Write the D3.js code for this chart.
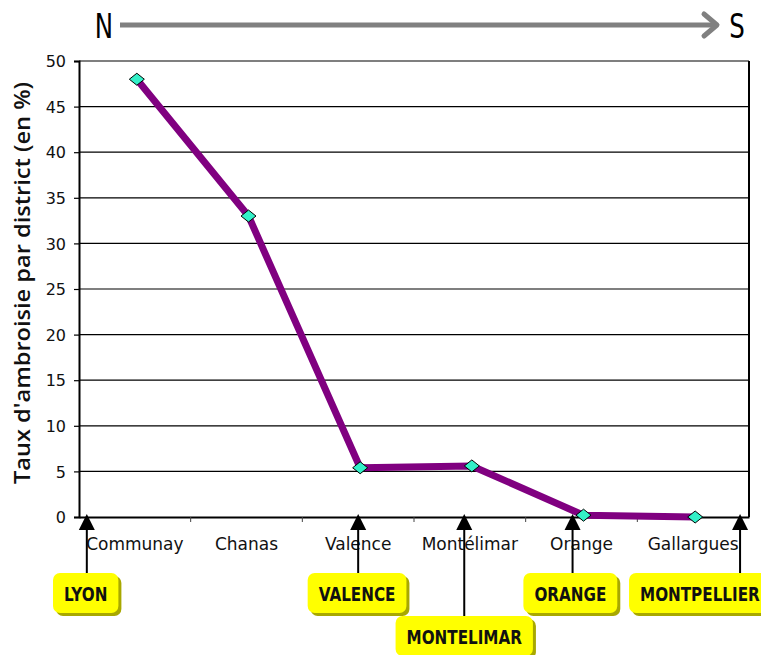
<!DOCTYPE html>
<html>
<head>
<meta charset="utf-8">
<script src="https://cdn.jsdelivr.net/npm/d3@7"></script>
<style>
  body { margin: 0; background: #fff; }
  svg { display: block; }
  .cat text { font-family: "DejaVu Sans", Verdana, sans-serif; font-size: 17px; fill: #111; }
  .yax text { font-family: "DejaVu Sans", Verdana, sans-serif; font-size: 16px; fill: #111; }
  .tag text { font-family: "DejaVu Sans", sans-serif; font-size: 19px; font-weight: bold; fill: #111; }
</style>
</head>
<body>
<svg id="chart" width="761" height="655"></svg>
<script>
const districts = ["Communay", "Chanas", "Valence", "Montélimar", "Orange", "Gallargues"];
const taux = [48, 33, 5.4, 5.6, 0.2, 0];
const yTicks = [0, 5, 10, 15, 20, 25, 30, 35, 40, 45, 50];

// villes repères : position en unités de catégorie (0 = Communay)
const villes = ["LYON", "VALENCE", "MONTELIMAR", "ORANGE", "MONTPELLIER"];
const villePos = [-0.43, 2.0, 2.95, 3.92, 5.42];
const etiquettePos = [-0.44, 1.99, 2.95, 3.9, 5.06];
const etiquetteRang = [0, 0, 1, 0, 0];

const svg = d3.select("#chart");
const m = { left: 79, right: 749, top: 61, bottom: 517 };
const serre = 0.8; // police étroite simulée

const x = d3.scaleBand().domain(districts).range([m.left, m.right]);
const xi = d3.scaleLinear().domain([0, 1])
  .range([x(districts[0]) + x.bandwidth() / 2, x(districts[1]) + x.bandwidth() / 2]);
const y = d3.scaleLinear().domain([0, 50]).range([m.bottom, m.top]);

// ---------- N -> S ----------
const nord = svg.append("g");
nord.append("line")
  .attr("x1", 120).attr("x2", 714).attr("y1", 25).attr("y2", 25)
  .attr("stroke", "#808080").attr("stroke-width", 5);
nord.append("path")
  .attr("d", "M704,14 L717,25 L704,36")
  .attr("fill", "none").attr("stroke", "#808080").attr("stroke-width", 5)
  .attr("stroke-linecap", "round").attr("stroke-linejoin", "round");
nord.selectAll("text").data([["N", 104], ["S", 737]]).join("text")
  .attr("transform", d => `translate(${d[1]},38) scale(0.72,1)`)
  .attr("text-anchor", "middle")
  .style("font-family", "'DejaVu Sans', sans-serif")
  .style("font-size", "34px")
  .attr("fill", "#000")
  .text(d => d[0]);

// ---------- grid ----------
svg.append("g")
  .selectAll("line").data(yTicks.filter(d => d > 0)).join("line")
  .attr("x1", m.left).attr("x2", m.right)
  .attr("y1", d => y(d)).attr("y2", d => y(d))
  .attr("stroke", "#000").attr("stroke-width", 1.2);

svg.append("line")
  .attr("x1", m.right).attr("x2", m.right).attr("y1", m.top).attr("y2", m.bottom)
  .attr("stroke", "#000").attr("stroke-width", 2);

// ---------- y axis ----------
const yAxis = svg.append("g").attr("class", "yax")
  .attr("transform", `translate(${m.left},0)`)
  .call(d3.axisLeft(y).tickValues(yTicks).tickSize(5).tickPadding(8));
yAxis.select(".domain").attr("stroke", "#000").attr("stroke-width", 2);
yAxis.selectAll(".tick line").attr("stroke", "#000").attr("stroke-width", 1.2);
yAxis.selectAll(".tick text").attr("dy", "0.36em");

// ---------- x axis ----------
const xAxis = svg.append("g").attr("class", "cat")
  .attr("transform", `translate(0,${m.bottom})`)
  .call(d3.axisBottom(x).tickSize(0).tickPadding(21));
xAxis.select(".domain").attr("stroke", "#000").attr("stroke-width", 2);
xAxis.selectAll(".tick text").attr("dy", "0.71em");
xAxis.selectAll(".sep").data(d3.range(1, districts.length)).join("line")
  .attr("class", "sep")
  .attr("x1", i => x(districts[i])).attr("x2", i => x(districts[i]))
  .attr("y1", 0).attr("y2", 5)
  .attr("stroke", "#444").attr("stroke-width", 1);

// ---------- y title ----------
svg.append("text")
  .attr("transform", `translate(30,283) rotate(-90)`)
  .attr("text-anchor", "middle")
  .attr("textLength", 402)
  .attr("lengthAdjust", "spacingAndGlyphs")
  .style("font-family", "'Open Sans', sans-serif")
  .style("font-size", "21.5px")
  .style("font-weight", "600")
  .attr("fill", "#111")
  .text("Taux d'ambroisie par district (en %)");

// ---------- line ----------
const pts = districts.map((d, i) => [x(d) + x.bandwidth() / 2 + 2, y(taux[i])]);
svg.append("path")
  .attr("d", d3.line()(pts))
  .attr("fill", "none").attr("stroke", "#800080").attr("stroke-width", 7)
  .attr("stroke-linejoin", "round");
svg.append("g").selectAll("path").data(pts).join("path")
  .attr("transform", d => `translate(${d[0]},${d[1]})`)
  .attr("d", "M-7.5,0 L0,-6 L7.5,0 L0,6 Z")
  .attr("fill", "#33F0C8").attr("stroke", "#000").attr("stroke-width", 1);

// ---------- villes ----------
const tags = svg.append("g").attr("class", "tag");
villes.forEach((v, i) => {
  const ax = xi(villePos[i]);
  const bx = xi(etiquettePos[i]);
  const by = etiquetteRang[i] === 0 ? 573 : 616;
  tags.append("line")
    .attr("x1", ax).attr("x2", ax).attr("y1", 528).attr("y2", by)
    .attr("stroke", "#000").attr("stroke-width", 2);
  tags.append("path")
    .attr("d", `M${ax},514 L${ax + 8},530 L${ax - 8},530 Z`)
    .attr("fill", "#000");

  const g = tags.append("g");
  const t = g.append("text")
    .attr("transform", `translate(${bx},${by + 28}) scale(${serre},1)`)
    .attr("text-anchor", "middle")
    .text(v);
  const w = t.node().getComputedTextLength() * serre + 22;
  g.insert("rect", "text")
    .attr("x", bx - w / 2 + 3).attr("y", by + 3)
    .attr("width", w).attr("height", 40).attr("rx", 7)
    .attr("fill", "#A8A800");
  g.insert("rect", "text")
    .attr("x", bx - w / 2).attr("y", by)
    .attr("width", w).attr("height", 40).attr("rx", 7)
    .attr("fill", "#FFFF00");
});
</script>
</body>
</html>
